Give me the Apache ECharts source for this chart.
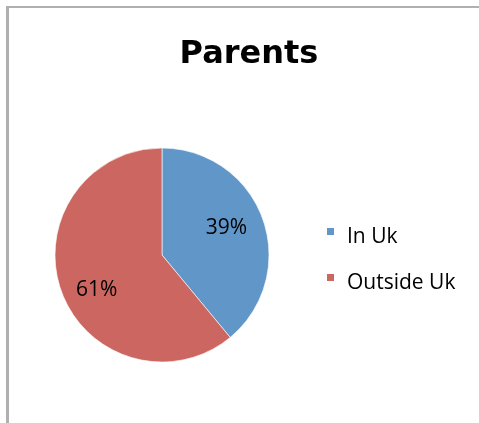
<!DOCTYPE html>
<html>
<head>
<meta charset="utf-8">
<script src="https://cdn.jsdelivr.net/npm/echarts@6/dist/echarts.min.js"></script>
<style>
  html, body { margin: 0; padding: 0; background: #fff; }
  #frame { position: absolute; left: 0; top: 0; width: 479px; height: 423px; overflow: hidden; }
  #edge { position: absolute; left: 6px; top: 6px; width: 480px; height: 430px;
          border-left: 3px solid #b0b0b0; border-top: 2px solid #b0b0b0; }
  #chart { position: absolute; left: 0; top: 0; width: 479px; height: 423px; }
</style>
</head>
<body>
<div id="frame">
  <div id="edge"></div>
  <div id="chart"></div>
</div>
<script>
// Where the parents live
const titleText = 'Parents';
const categories = ['In Uk', 'Outside Uk'];
const shares = [39, 61];
const colors = ['#6196c9', '#cc6660'];

// small label nudges (px) so each percent sits where it reads best in its slice
const labelNudges = [[-2, -3], [1, 11]];

// legend key: a small square riding high against its label (an empty point below stretches the box)
const keyIcon = 'path://M0,0L7,0L7,7L0,7Z M0,19L0.01,19';

const font = 'Open Sans';
const chart = echarts.init(document.getElementById('chart'), null, { renderer: 'canvas' });

const pieData = categories.map((name, i) => ({ name, value: shares[i] }));
const labelData = categories.map((name, i) => ({
  name, value: shares[i], label: { offset: labelNudges[i] }
}));

chart.setOption({
  animation: false,
  color: colors,
  title: {
    text: titleText,
    left: 244, top: 34, textAlign: 'center',
    textStyle: { fontFamily: 'DejaVu Sans', fontWeight: 'bold', fontSize: 32, color: '#000' }
  },
  legend: {
    orient: 'vertical',
    left: 327, top: 227, padding: 0,
    itemWidth: 7, itemHeight: 19, itemGap: 25,
    icon: keyIcon,
    itemStyle: { borderWidth: 0 },
    textStyle: { fontFamily: font, fontSize: 21, color: '#000', padding: [0, 0, 0, 8] },
    data: categories
  },
  series: [
    {
      type: 'pie',
      center: [162, 255],
      radius: [0, 107],
      startAngle: 90,
      clockwise: true,
      data: pieData,
      label: { show: false },
      labelLine: { show: false },
      itemStyle: { borderColor: '#fff', borderWidth: 0.6 },
      emphasis: { disabled: true }
    },
    {
      // label ring: places the percent labels a bit outward from the radius midpoint
      type: 'pie',
      center: [162, 255],
      radius: [28, 107],
      startAngle: 90,
      clockwise: true,
      silent: true,
      legendHoverLink: false,
      data: labelData,
      itemStyle: { color: 'rgba(0,0,0,0)' },
      label: {
        show: true, position: 'inside',
        formatter: p => p.value + '%',
        fontFamily: font, fontSize: 21, color: '#000'
      },
      labelLine: { show: false },
      emphasis: { disabled: true }
    }
  ]
});
</script>
</body>
</html>
